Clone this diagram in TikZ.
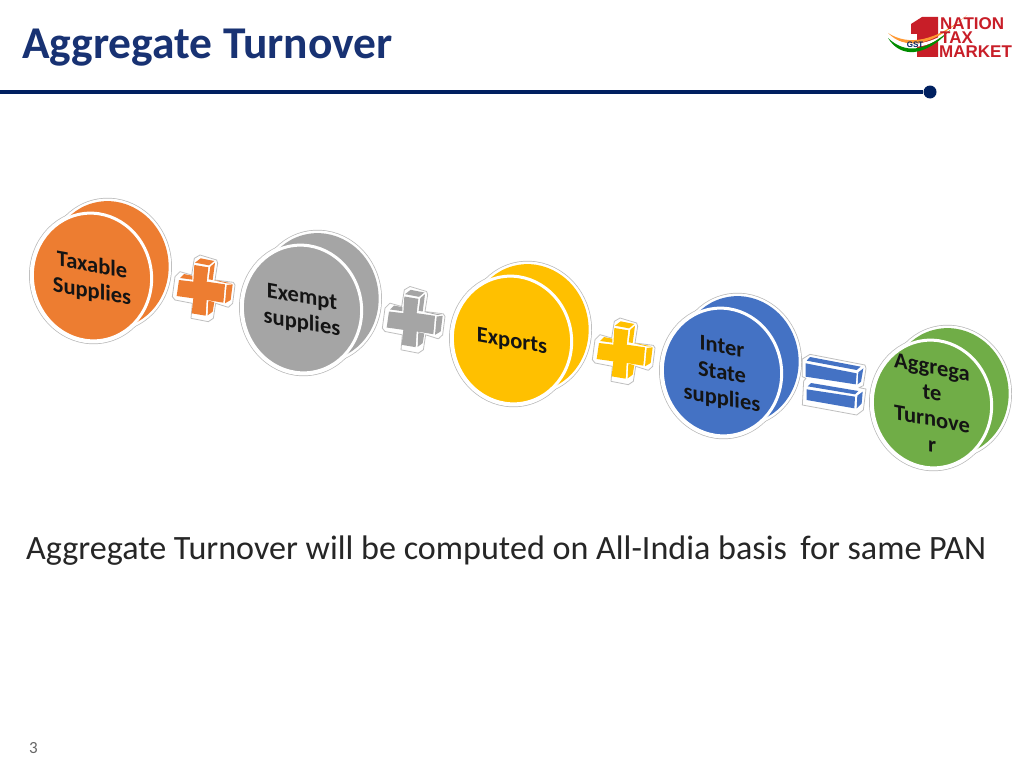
\documentclass[tikz,border=0pt]{standalone}
\usepackage{fontspec}
\setmainfont{Carlito}
\setsansfont{Liberation Sans}
\usetikzlibrary{shapes.geometric}
\definecolor{navy}{RGB}{0,32,96}
\definecolor{headblue}{RGB}{24,50,115}
\definecolor{taxorange}{RGB}{237,125,49}
\definecolor{taxgray}{RGB}{165,165,165}
\definecolor{taxyellow}{RGB}{255,192,0}
\definecolor{taxblue}{RGB}{68,114,196}
\definecolor{taxgreen}{RGB}{112,173,71}
\definecolor{logored}{RGB}{200,30,40}
\tikzset{
    disk/.style={ellipse,rotate=10,minimum width=119pt,minimum height=128pt,inner sep=0pt},
    rimline/.style={draw=black!28,line width=6.6pt,line join=round},
    rimfill/.style={draw=white,fill=white,line width=5.2pt,line join=round},
    oprim/.style={draw=black!25,fill=white,line width=0.8pt,line join=round},
    ring/.style={draw=white,line width=3pt},
    disklabel/.style={yslant=-0.18,align=center,inner sep=0pt,text=black!92,font=\fontsize{22.5}{26}\selectfont\bfseries},
    logotext/.style={text=logored,font=\fontsize{17}{17}\sffamily\bfseries,inner sep=0pt,anchor=west},
}
\newcommand{\plussign}[2]{%
    \begin{scope}[shift={(#1)},x=0.3333pt,y=-0.3333pt]
        \path[oprim] (88,25) -- (105,15) -- (155,30) -- (158,40) -- (150,90) -- (205,97) -- (210,105) -- (203,160) -- (190,172) -- (152,160) -- (145,205) -- (130,215) -- (78,205) -- (82,160) -- (30,150) -- (22,140) -- (30,80) -- (45,65) -- (80,75) -- cycle;
        \fill[#2] (88,45) -- (130,52) -- (125,95) -- (180,103) -- (175,158) -- (125,150) -- (122,197) -- (80,190) -- (85,145) -- (35,138) -- (42,90) -- (85,95) -- cycle;
        \fill[#2] (90,38) -- (107,25) -- (148,33) -- (132,46) -- cycle;
        \fill[#2] (136,50) -- (150,38) -- (143,90) -- (131,88) -- cycle;
        \fill[#2] (45,84) -- (57,72) -- (82,77) -- (82,89) -- cycle;
        \fill[#2] (146,91) -- (158,92) -- (200,100) -- (186,100) -- cycle;
        \fill[#2] (185,105) -- (203,103) -- (197,150) -- (180,160) -- cycle;
        \fill[#2] (130,152) -- (148,156) -- (143,185) -- (128,196) -- cycle;
    \end{scope}}
\newcommand{\equalsign}[2]{%
    \begin{scope}[shift={(#1)},x=0.3333pt,y=-0.3333pt]
        \path[oprim] (22,42) -- (45,28) -- (210,60) -- (213,70) -- (205,122) -- (192,128) -- (213,132) -- (205,195) -- (185,210) -- (22,180) -- (26,108) -- (33,100) -- (22,95) -- cycle;
        \fill[#2] (32,55) -- (185,85) -- (182,118) -- (32,95) -- cycle;
        \fill[#2] (45,36) -- (197,65) -- (185,75) -- (35,47) -- cycle;
        \fill[#2] (190,82) -- (205,70) -- (198,110) -- (188,118) -- cycle;
        \fill[#2] (48,114) -- (190,138) -- (180,148) -- (38,124) -- cycle;
        \fill[#2] (35,133) -- (180,155) -- (178,190) -- (35,165) -- cycle;
        \fill[#2] (187,152) -- (203,140) -- (200,175) -- (185,190) -- cycle;
    \end{scope}}
\begin{document}
\begin{tikzpicture}[x=1pt,y=-1pt]
    \useasboundingbox (0,0) rectangle (1024,768);
    \fill[white] (0,0) rectangle (1024,768);
    % heading
    \node[anchor=west,inner sep=0pt,text=headblue,font=\fontsize{45.5}{45.5}\selectfont\bfseries] (title) at (22,47.5) {Aggregate Turnover};
    \coordinate (rulestart) at (0,92);
    \node[circle,fill=navy,minimum size=13pt,inner sep=0pt] (ruleend) at (930,92) {};
    \draw[navy,line width=3.6pt] (rulestart) -- (ruleend);
    % logo
    \fill[logored] (911,24) -- (922,17) -- (938,17) -- (938,57) -- (917,57) -- (917,34) -- (911,34) -- cycle;
    \fill[orange!80] (888,33) .. controls (905,50) and (930,48) .. (967,15) .. controls (935,42) and (908,46) .. (888,33) -- cycle;
    \fill[white] (890,37) .. controls (905,52) and (930,50) .. (950,30) .. controls (930,45) and (908,48) .. (890,37) -- cycle;
    \fill[green!55!black] (888,38) .. controls (900,58) and (925,58) .. (950,30) .. controls (925,52) and (905,54) .. (888,38) -- cycle;
    \node[text=navy,font=\fontsize{8}{8}\sffamily\bfseries,inner sep=0pt] (gst) at (915,44.5) {GST};
    \node[logotext] (nation) at (940,23.5) {NATION};
    \node[logotext] (tax) at (940,37.5) {TAX};
    \node[logotext] (market) at (939,51.5) {MARKET};
    % disks
    \foreach \cx/\cy/\col/\lbl/\nm in {92/277/taxorange/{Taxable\\Supplies}/taxable,
        302/309/taxgray/{Exempt\\supplies}/exempt,
        512/340/taxyellow/{Exports}/exports,
        722/372/taxblue/{Inter\\State\\supplies}/inter,
        932/404/taxgreen/{Aggrega\\te\\Turnove\\r}/total} {
        \foreach \edgestyle in {rimline,rimfill} {
            \node[disk,\edgestyle] at (\cx+17,\cy-12) {};
            \node[disk,\edgestyle] at (\cx,\cy) {};
        }
        \node[disk,fill=\col] (\nm back) at (\cx+17,\cy-12) {};
        \node[disk,ring,fill=\col] (\nm) at (\cx,\cy) {};
        \node[disklabel] (\nm text) at (\cx,\cy+2) {\lbl};
    }
    % operators
    \plussign{165,250}{taxorange}
    \plussign{375,281.5}{taxgray}
    \plussign{585,313}{taxyellow}
    \equalsign{795,345}{taxblue}
    % note and page number
    \node[anchor=west,inner sep=0pt,text=black!85,font=\fontsize{34.1}{34.1}\selectfont] (note) at (26,551) {Aggregate Turnover will be computed on All-India basis\, for same PAN};
    \node[anchor=west,inner sep=0pt,text=black!60,font=\fontsize{17}{17}\selectfont] (page) at (29,748) {3};
\end{tikzpicture}
\end{document}
